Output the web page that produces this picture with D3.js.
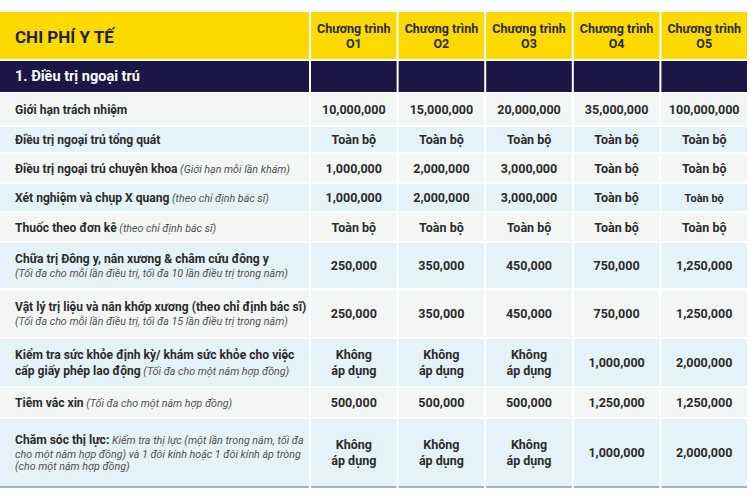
<!DOCTYPE html>
<html><head><meta charset="utf-8">
<script src="https://cdn.jsdelivr.net/npm/d3@7"></script>
<style>
body{margin:0;background:#fff}
text{font-family:Roboto,"Noto Sans",sans-serif}
</style></head>
<body><svg id="c" width="750" height="500"></svg>
<script>
// ---------------- DATA ----------------
const title = "CHI PHÍ Y TẾ";
const section = "1. Điều trị ngoại trú";
const programPrefix = "Chương trình";
const programs = ["O1", "O2", "O3", "O4", "O5"];
// "|" marks a line break
const benefits = [
  "Giới hạn trách nhiệm",
  "Điều trị ngoại trú tổng quát",
  "Điều trị ngoại trú chuyên khoa",
  "Xét nghiệm và chụp X quang",
  "Thuốc theo đơn kê",
  "Chữa trị Đông y, nắn xương & châm cứu đông y",
  "Vật lý trị liệu và nắn khớp xương (theo chỉ định bác sĩ)",
  "Kiểm tra sức khỏe định kỳ/ khám sức khỏe cho việc|cấp giấy phép lao động",
  "Tiêm vắc xin",
  "Chăm sóc thị lực:"
];
const notes = [
  "",
  "",
  "(Giới hạn mỗi lần khám)",
  "(theo chỉ định bác sĩ)",
  "(theo chỉ định bác sĩ)",
  "|(Tối đa cho mỗi lần điều trị, tối đa 10 lần điều trị trong năm)",
  "|(Tối đa cho mỗi lần điều trị, tối đa 15 lần điều trị trong năm)",
  "(Tối đa cho một năm hợp đồng)",
  "(Tối đa cho một năm hợp đồng)",
  "Kiếm tra thị lực (một lần trong năm, tối đa|cho một năm hợp đồng) và 1 đôi kính hoặc 1 đôi kính áp tròng|(cho một năm hợp đồng)"
];
const O1 = ["10,000,000", "Toàn bộ", "1,000,000", "1,000,000", "Toàn bộ", "250,000", "250,000", "Không|áp dụng", "500,000", "Không|áp dụng"];
const O2 = ["15,000,000", "Toàn bộ", "2,000,000", "2,000,000", "Toàn bộ", "350,000", "350,000", "Không|áp dụng", "500,000", "Không|áp dụng"];
const O3 = ["20,000,000", "Toàn bộ", "3,000,000", "3,000,000", "Toàn bộ", "450,000", "450,000", "Không|áp dụng", "500,000", "Không|áp dụng"];
const O4 = ["35,000,000", "Toàn bộ", "Toàn bộ", "Toàn bộ", "Toàn bộ", "750,000", "750,000", "1,000,000", "1,250,000", "1,000,000"];
const O5 = ["100,000,000", "Toàn bộ", "Toàn bộ", "Toàn bộ", "Toàn bộ", "1,250,000", "1,250,000", "2,000,000", "1,250,000", "2,000,000"];
const series = [O1, O2, O3, O4, O5];

// ---------------- LAYOUT ----------------
const rowEdges = [93, 127, 154, 184, 213, 243, 290, 339, 388, 419, 488];
const gap = 2;
const svg = d3.select("#c");
const C = {yellow: "#fcd900", navy: "#1b1646", gray: "#f4f6f6", blue: "#e3f3f8", text: "#2b2b2b", note: "#505050", border: "#aab3bc"};

const x = d3.scaleBand().domain(programs).range([309, 747]).paddingInner(0);
const labelX0 = 0, labelX1 = 309;
const rowTop = i => rowEdges[i];
const rowH = i => rowEdges[i + 1] - rowEdges[i] - gap;

// header
svg.append("rect").attr("x", labelX0).attr("y", 12).attr("width", labelX1 - labelX0).attr("height", 47).attr("fill", C.yellow);
svg.append("text").attr("x", 15).attr("y", 42.5).attr("font-size", 17).attr("font-weight", 700).attr("fill", "#231f20").text(title);
svg.append("rect").attr("x", labelX0).attr("y", 61).attr("width", labelX1 - labelX0).attr("height", 31).attr("fill", C.navy);
svg.append("text").attr("x", 15).attr("y", 81).attr("font-size", 14.5).attr("font-weight", 700).attr("fill", "#fff").text(section);

const ph = svg.selectAll("g.ph").data(programs).join("g").attr("class", "ph");
ph.append("rect").attr("x", d => x(d) + gap).attr("y", 12).attr("width", x.bandwidth() - gap).attr("height", 47).attr("fill", C.yellow);
ph.append("rect").attr("x", d => x(d) + gap).attr("y", 61).attr("width", x.bandwidth() - gap).attr("height", 31).attr("fill", C.navy);
const pt = ph.append("text").attr("text-anchor", "middle").attr("font-size", 12.5).attr("font-weight", 700).attr("fill", C.text);
pt.append("tspan").attr("x", d => x(d) + gap + (x.bandwidth() - gap) / 2).attr("y", 33).text(programPrefix);
pt.append("tspan").attr("x", d => x(d) + gap + (x.bandwidth() - gap) / 2).attr("y", 48).text(d => d);

// rows
benefits.forEach((name, i) => {
  const fill = i % 2 === 0 ? C.gray : C.blue;
  const top = rowTop(i), h = rowH(i), cy = top + h / 2;
  svg.append("rect").attr("x", labelX0).attr("y", top).attr("width", labelX1 - labelX0).attr("height", h).attr("fill", fill);

  // build label lines: segments [text, italic]
  const nameLines = name.split("|");
  const noteLines = notes[i] ? notes[i].split("|") : [""];
  const lines = nameLines.map(t => [[t, false]]);
  if (noteLines[0]) lines[lines.length - 1].push([noteLines[0], true]);
  noteLines.slice(1).forEach(t => lines.push([[t, true]]));
  // line offsets: italic-only lines sit closer
  const offs = [0];
  for (let k = 1; k < lines.length; k++) {
    const italicOnly = lines[k].length === 1 && lines[k][0][1];
    const prevItalic = lines[k - 1].length === 1 && lines[k - 1][0][1];
    offs.push(offs[k - 1] + (italicOnly ? (prevItalic ? 12 : 13.5) : 15.5));
  }
  const total = offs[offs.length - 1];
  const t = svg.append("text").attr("font-size", 12.1).attr("fill", C.text);
  lines.forEach((segs, li) => {
    const y = cy - total / 2 + offs[li] + 4.5;
    segs.forEach((s, si) => {
      const sp = t.append("tspan").text(si > 0 ? "\u00a0" + s[0] : s[0]);
      if (si === 0) sp.attr("x", 15).attr("y", y);
      if (s[1]) sp.attr("font-style", "italic").attr("font-size", 10.7).attr("fill", C.note);
      else sp.attr("font-weight", 700);
    });
  });

  programs.forEach((p, j) => {
    const cx = x(p) + gap, w = x.bandwidth() - gap;
    svg.append("rect").attr("x", cx).attr("y", top).attr("width", w).attr("height", h).attr("fill", fill);
    const vl = series[j][i].split("|");
    const small = (i === 3 && j === 4);
    const vt = svg.append("text").attr("text-anchor", "middle").attr("font-size", small ? 11 : 12.5).attr("font-weight", 700).attr("fill", C.text);
    vl.forEach((v, k) => {
      vt.append("tspan").attr("x", cx + w / 2).attr("y", cy + (k - (vl.length - 1) / 2) * 15.5 + 4.5).text(v);
    });
  });
});

// bottom border
const last = rowEdges[rowEdges.length - 1];
svg.append("rect").attr("x", labelX0).attr("y", last - gap).attr("width", labelX1 - labelX0).attr("height", 2).attr("fill", C.border);
programs.forEach(p => {
  svg.append("rect").attr("x", x(p) + gap).attr("y", last - gap).attr("width", x.bandwidth() - gap).attr("height", 2).attr("fill", C.border);
});
</script>
</body></html>
